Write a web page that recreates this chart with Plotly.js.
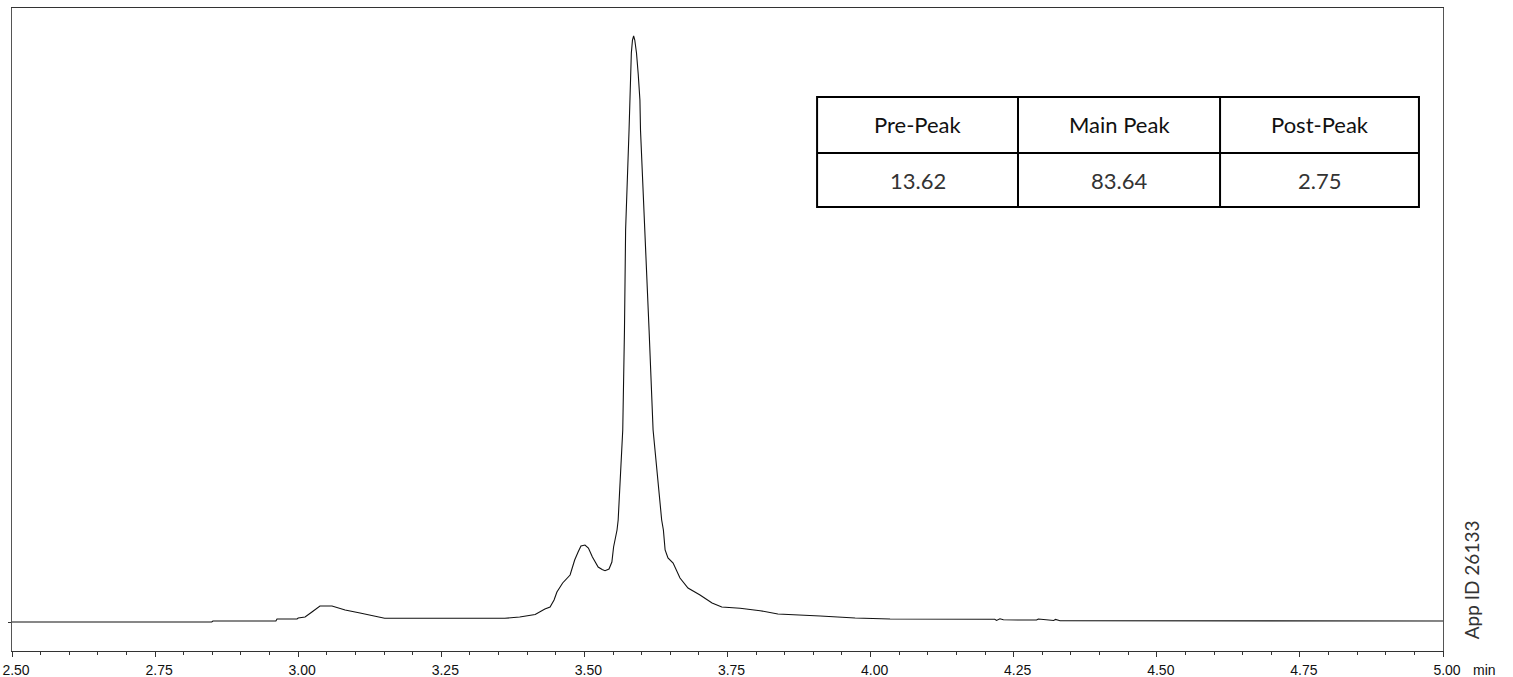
<!DOCTYPE html>
<html>
<head>
<meta charset="utf-8">
<script src="https://cdn.plot.ly/plotly-3.0.1.min.js"></script>
<style>
  html, body { margin: 0; padding: 0; background: #fff; }
  #chart { width: 1513px; height: 677px; }
</style>
</head>
<body>
<div id="chart"></div>
<script>
// Retention time (min)
const time = [
  2.500, 2.849, 2.851, 2.961, 2.963, 2.998, 3.000, 3.012, 3.024, 3.038, 3.059,
  3.082, 3.108, 3.134, 3.148, 3.151, 3.361, 3.387, 3.414, 3.422, 3.431, 3.440,
  3.447, 3.452, 3.462, 3.475, 3.483, 3.489, 3.494, 3.501, 3.507, 3.514, 3.524,
  3.531, 3.536, 3.543, 3.548, 3.551, 3.557, 3.559, 3.563, 3.567, 3.570, 3.572,
  3.578, 3.580, 3.582, 3.584, 3.586, 3.588, 3.591, 3.594, 3.597, 3.598, 3.606,
  3.613, 3.620, 3.628, 3.635, 3.638, 3.641, 3.646, 3.655, 3.667, 3.681, 3.702,
  3.723, 3.740, 3.772, 3.807, 3.838, 3.912, 3.973, 4.034, 4.217, 4.220, 4.226,
  4.232, 4.240, 4.262, 4.290, 4.293, 4.320, 4.323, 4.331, 5.000
];
// Detector signal (arbitrary units)
const signal = [
  0, 0, 1, 1, 3, 3, 4, 5, 10, 16, 16,
  12, 9, 6, 4.5, 3.7, 3.7, 5, 7.5, 10.3, 13, 15,
  22, 30, 39, 47, 62, 70, 76, 77, 74, 65, 55,
  52.5, 51.3, 53, 60, 75, 92, 102, 145, 192, 292, 392,
  492, 535, 569, 582, 586, 582, 569, 548, 522, 492, 392,
  292, 192, 140, 102, 92, 72, 64, 59, 44, 34, 27,
  19, 15, 13.7, 11.3, 8, 6, 4, 3, 2.7, 1.6, 3.2,
  2.2, 2.0, 2.0, 2.0, 3.0, 1.5, 2.6, 1.3, 1
];
// Table contents
const tableHeaders = ["Pre-Peak", "Main Peak", "Post-Peak"];
const tableValues = ["13.62", "83.64", "2.75"];
const sideLabel = "App ID 26133";
const unitLabel = "min";

// Table layout (paper coordinates)
const colEdges = [0.5626, 0.7030, 0.8442, 0.9832];
const rowEdges = [0.8616, 0.7745, 0.6905];

const shapes = [];
const lineStyle = {color: "#000", width: 2};
shapes.push({type: "rect", xref: "paper", yref: "paper",
  x0: colEdges[0], x1: colEdges[3], y0: rowEdges[2], y1: rowEdges[0], line: lineStyle});
for (let i = 1; i < colEdges.length - 1; i++) {
  shapes.push({type: "line", xref: "paper", yref: "paper",
    x0: colEdges[i], x1: colEdges[i], y0: rowEdges[2], y1: rowEdges[0], line: lineStyle});
}
shapes.push({type: "line", xref: "paper", yref: "paper",
  x0: colEdges[0], x1: colEdges[3], y0: rowEdges[1], y1: rowEdges[1], line: lineStyle});

const annotations = [];
for (let i = 0; i < tableHeaders.length; i++) {
  const cx = (colEdges[i] + colEdges[i + 1]) / 2;
  annotations.push({xref: "paper", yref: "paper", x: cx, y: (rowEdges[0] + rowEdges[1]) / 2,
    text: tableHeaders[i], showarrow: false, xanchor: "center", yanchor: "middle",
    font: {family: "Lato, 'Open Sans', sans-serif", size: 22, color: "#111"}});
  annotations.push({xref: "paper", yref: "paper", x: cx, y: (rowEdges[1] + rowEdges[2]) / 2,
    text: tableValues[i], showarrow: false, xanchor: "center", yanchor: "middle",
    font: {family: "Lato, 'Open Sans', sans-serif", size: 22, color: "#333"}});
}
annotations.push({xref: "paper", yref: "paper", x: 1, y: -0.030, xshift: 28,
  text: unitLabel, showarrow: false, xanchor: "left", yanchor: "middle",
  font: {family: "Arial, 'Liberation Sans', sans-serif", size: 14, color: "#111"}});
annotations.push({xref: "paper", yref: "paper", x: 1, y: 0.11, xshift: 28,
  text: sideLabel, textangle: -90, showarrow: false, xanchor: "center", yanchor: "middle",
  font: {family: "Lato, 'Open Sans', sans-serif", size: 19, color: "#333"}});

const trace = {
  x: time, y: signal, type: "scatter", mode: "lines",
  line: {color: "#111", width: 1.1},
  hoverinfo: "x+y"
};

const layout = {
  width: 1513, height: 677,
  margin: {l: 12, r: 70, t: 8, b: 26},
  paper_bgcolor: "#fff", plot_bgcolor: "#fff",
  showlegend: false,
  xaxis: {
    range: [2.5, 5.0], tick0: 2.5, dtick: 0.25, tickformat: ".2f",
    ticks: "outside", ticklen: 5, tickwidth: 1, tickcolor: "#333",
    ticklabelshift: 4, ticklabelstandoff: 1,
    minor: {dtick: 0.05, ticks: "outside", ticklen: 3, tickcolor: "#333", tickwidth: 1, showgrid: false},
    showgrid: false, zeroline: false,
    showline: true, linecolor: "#333", linewidth: 1, mirror: true,
    tickfont: {family: "Arial, 'Liberation Sans', sans-serif", size: 14, color: "#111"}
  },
  yaxis: {
    range: [-29, 614], tickmode: "array", tickvals: [0], showticklabels: false,
    ticks: "outside", ticklen: 3, tickcolor: "#333",
    showgrid: false, zeroline: false,
    showline: true, linecolor: "#555", linewidth: 1, mirror: true
  },
  shapes: shapes,
  annotations: annotations
};

Plotly.newPlot("chart", [trace], layout, {displayModeBar: false, staticPlot: true});
</script>
</body>
</html>
